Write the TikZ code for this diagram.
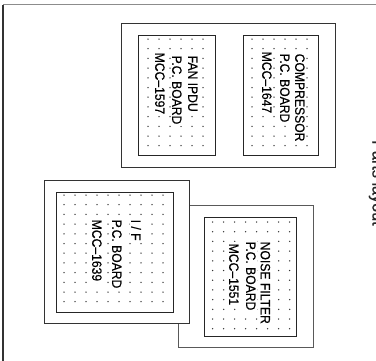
\documentclass[tikz,border=0pt]{standalone}
\usepackage{fontspec}
\setmainfont{Liberation Sans}[FakeStretch=0.9,FakeBold=0.4]
\newcommand\boarddots[6]{%
  \pgfmathsetmacro\bdxa{#1+#5}%
  \pgfmathsetmacro\bdxb{#1+#5+11}%
  \pgfmathsetmacro\bdxe{#3-2}%
  \pgfmathsetmacro\bdya{#2+#6}%
  \pgfmathsetmacro\bdyb{#2+#6+9.7}%
  \pgfmathsetmacro\bdye{#4-2}%
  \foreach \xx in {\bdxa,\bdxb,...,\bdxe}{%
    \foreach \yy in {\bdya,\bdyb,...,\bdye}{%
      \fill[dotc] (\xx,\yy) circle[radius=0.75];
    }%
  }%
}
\begin{document}
\begin{tikzpicture}[x=1pt,y=-1pt,
  frame/.style={draw=black!80,line width=0.8pt},
  outer/.style={frame,fill=white},
  board/.style={draw=black!85,line width=0.9pt},
  dotc/.style={fill=black!80},
  lbl/.style={font=\fontsize{13.5}{15}\selectfont,rotate=-90,anchor=base west,
    fill=white,inner sep=1.5pt,text=black},
  title/.style={font=\fontsize{18}{20}\selectfont,rotate=-90,anchor=base west,
    inner sep=0pt,text=black!85}]
\useasboundingbox (0,0) rectangle (376,360);
\clip (0,0) rectangle (376,360);
% page border
\draw[black!45,line width=1.3pt] (3,4.5) -- (380,4.5);
\draw[black!80,line width=1.2pt] (3,4.5) -- (3,362);
% title
\node[title] (ttl) at (372.5,140) {Parts layout};
% top group
\node[outer,minimum width=214pt,minimum height=144pt,inner sep=0pt] (topbox) at (228,95) {};
\draw[board] (138,35) rectangle (215,155);
\boarddots{138}{35}{215}{155}{10}{4}
\draw[board] (243,35) rectangle (318,155);
\boarddots{243}{35}{318}{155}{9}{4}
\node[lbl] (fan1) at (188.2,54) {FAN IPDU};
\node[lbl] (fan2) at (172.2,54) {P.C. BOARD};
\node[lbl] (fan3) at (155.2,51) {MCC–1597};
\node[lbl] (cmp1) at (295.2,52) {COMPRESSOR};
\node[lbl] (cmp2) at (280.2,52) {P.C. BOARD};
\node[lbl] (cmp3) at (262.2,50) {MCC–1647};
% lower right group (behind)
\draw[frame,black!65,line width=1pt,fill=white] (178,205) rectangle (313,347.5);
\draw[board] (204,217) rectangle (296,336);
\boarddots{204}{217}{296}{336}{8.7}{5}
\node[lbl] (nf1) at (260.7,240) {NOISE FILTER};
\node[lbl] (nf2) at (246.2,240) {P.C. BOARD};
\node[lbl] (nf3) at (229.2,242) {MCC–1551};
% lower left group (front)
\draw[outer] (44,180) rectangle (189,323);
\draw[board] (56,192) rectangle (173,312);
\boarddots{56}{192}{173}{312}{8}{3}
\node[lbl] (if1) at (131.2,218) {I / F};
\node[lbl] (if2) at (112.2,218) {P.C. BOARD};
\node[lbl] (if3) at (92.2,218) {MCC–1639};
\end{tikzpicture}
\end{document}
